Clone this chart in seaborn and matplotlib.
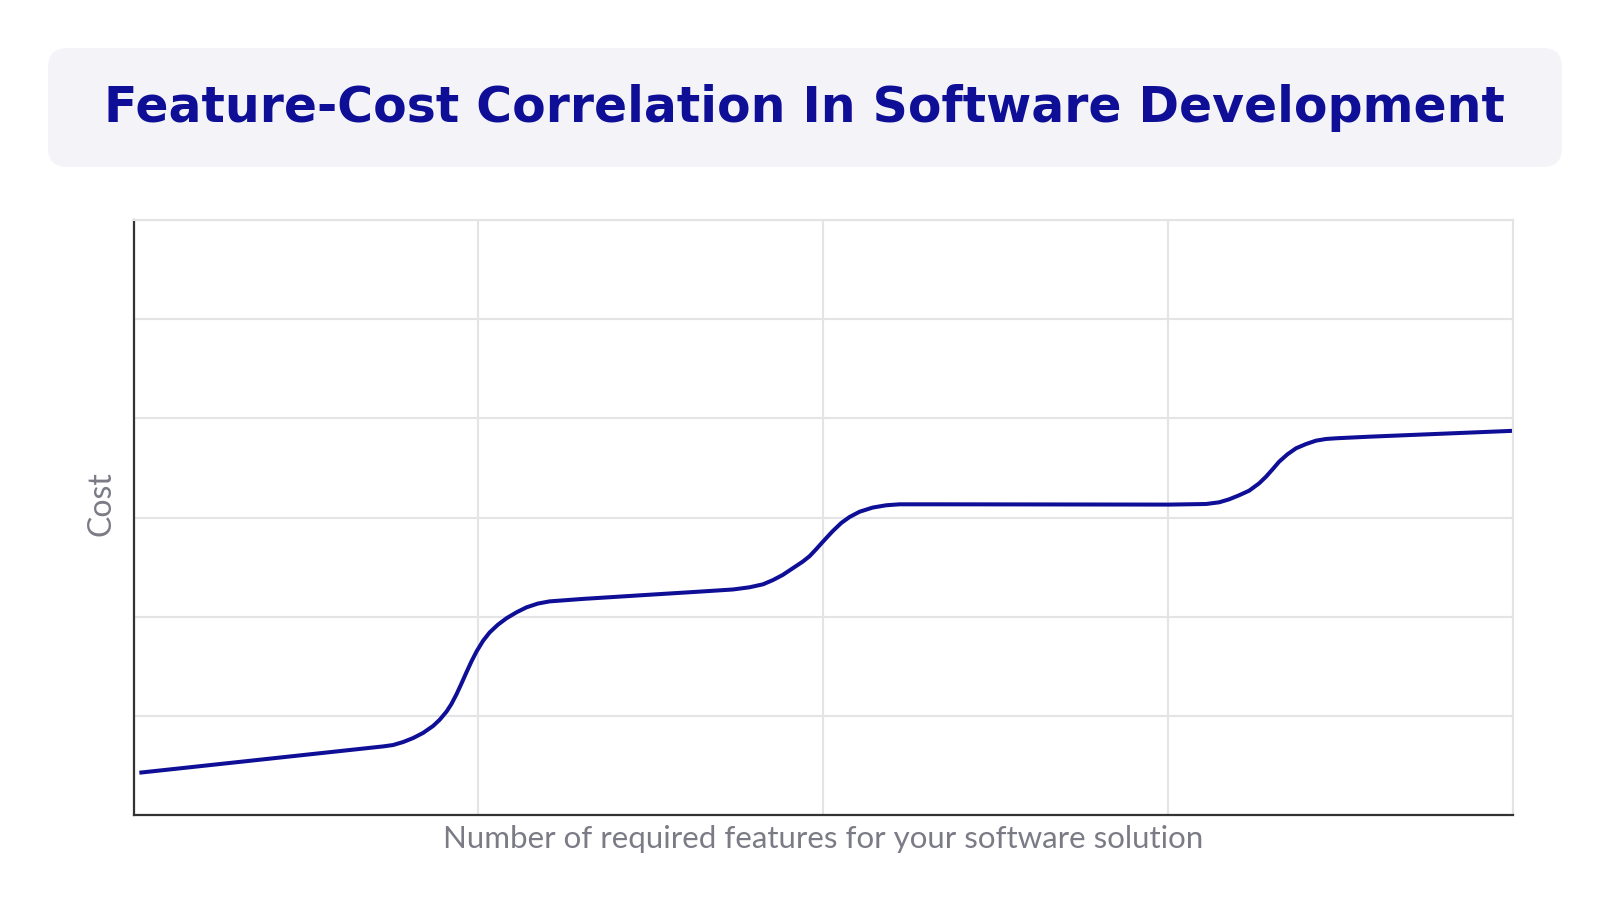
import matplotlib
matplotlib.use("Agg")
import matplotlib.pyplot as plt
from matplotlib.patches import FancyBboxPatch
import seaborn as sns
import pandas as pd

# ---- data ----
features = [0.017, 0.628, 0.676, 0.724, 0.753, 0.782, 0.811, 0.840, 0.869, 0.888,
            0.908, 0.922, 0.937, 0.951, 0.966, 0.980, 0.995, 1.014, 1.033, 1.057,
            1.082, 1.111, 1.140, 1.173, 1.207, 1.304, 1.497, 1.641, 1.739, 1.787,
            1.826, 1.855, 1.883, 1.912, 1.941, 1.961, 1.980, 1.995, 2.014, 2.028,
            2.053, 2.077, 2.106, 2.144, 2.183, 2.222, 2.338, 3.004, 3.111, 3.149,
            3.178, 3.207, 3.236, 3.265, 3.285, 3.304, 3.323, 3.347, 3.372, 3.401,
            3.430, 3.459, 3.488, 3.584, 4.000]
cost = [0.429, 0.658, 0.676, 0.694, 0.708, 0.738, 0.778, 0.830, 0.900, 0.962,
        1.045, 1.120, 1.220, 1.325, 1.442, 1.548, 1.650, 1.758, 1.842, 1.920,
        1.985, 2.045, 2.095, 2.133, 2.155, 2.180, 2.222, 2.253, 2.275, 2.297,
        2.327, 2.370, 2.421, 2.488, 2.555, 2.610, 2.680, 2.738, 2.810, 2.862,
        2.945, 3.005, 3.058, 3.100, 3.123, 3.133, 3.133, 3.130, 3.136, 3.153,
        3.183, 3.224, 3.270, 3.344, 3.411, 3.485, 3.562, 3.636, 3.697, 3.740,
        3.774, 3.791, 3.798, 3.814, 3.873]
x_grid = [0, 1, 2, 3, 4]
y_grid = [0, 1, 2, 3, 4, 5, 6]

title = "Feature-Cost Correlation In Software Development"
x_label = "Number of required features for your software solution"
y_label = "Cost"

NAVY = "#0e0e96"
GRID = "#e4e4e6"
LABEL = "#7b7b86"

sns.set_theme(style="white")
plt.rcParams["font.family"] = ["Lato", "DejaVu Sans"]

fig = plt.figure(figsize=(16.1, 9.1), dpi=100)

# title box
box = FancyBboxPatch((48 / 1610, 1 - 167 / 910), (1562 - 48) / 1610, (167 - 48) / 910,
                     boxstyle="round,pad=0,rounding_size=0.012",
                     transform=fig.transFigure, facecolor="#f3f3f8",
                     edgecolor="none", mutation_aspect=1610 / 910)
fig.patches.append(box)
fig.text(804 / 1610, 1 - 121.7 / 910, title, ha="center", va="baseline",
         fontsize=35.2, fontweight="bold", color=NAVY, family=["DejaVu Sans"])

ax = fig.add_axes([133.5 / 1610, 1 - 815.3 / 910, (1512.5 - 133.5) / 1610,
                   (815.3 - 219.7) / 910])
df = pd.DataFrame({"features": features, "cost": cost})
sns.lineplot(data=df, x="features", y="cost", ax=ax, color=NAVY, linewidth=2.9,
             estimator=None, sort=False)
for ln in ax.get_lines():
    ln.set_solid_joinstyle("round")
    ln.set_solid_capstyle("butt")

ax.set_xlim(x_grid[0], x_grid[-1])
ax.set_ylim(y_grid[0], y_grid[-1])
ax.set_xticks(x_grid)
ax.set_yticks(y_grid)
ax.tick_params(length=0, labelbottom=False, labelleft=False)
ax.grid(True, color=GRID, linewidth=1.5)
ax.set_axisbelow(True)
for s in ["top", "right"]:
    ax.spines[s].set_color(GRID)
    ax.spines[s].set_linewidth(1.5)
for s in ["left", "bottom"]:
    ax.spines[s].set_color("#333333")
    ax.spines[s].set_linewidth(1.6)
ax.set_xlabel(x_label, fontsize=22.5, color=LABEL, labelpad=7)
ax.set_ylabel(y_label, fontsize=23, color=LABEL)
ax.yaxis.set_label_coords(-0.012, 0.524)

fig.savefig("out.png", dpi=100, facecolor="white")
